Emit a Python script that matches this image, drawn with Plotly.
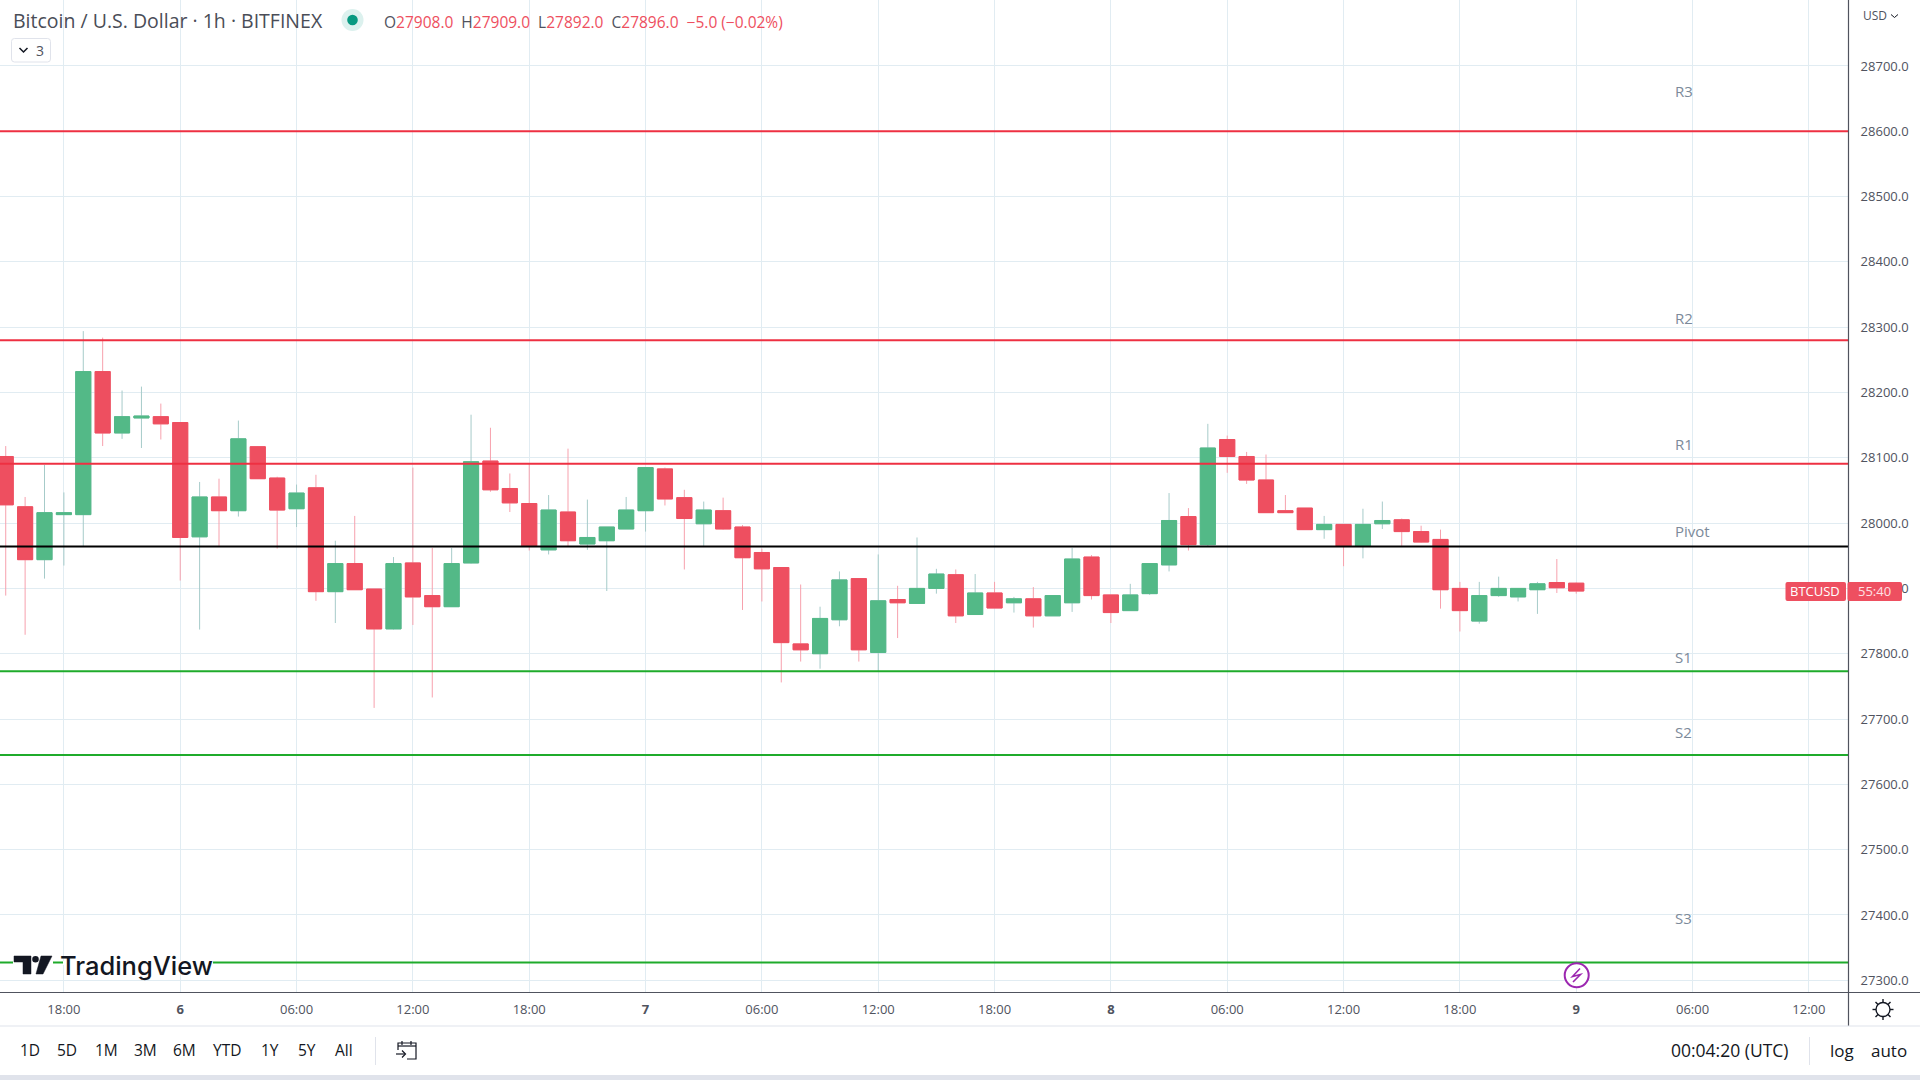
import pandas as pd
import plotly.graph_objects as go

# hourly candles, first one is 15:00 on the 5th
opens = [28102, 28025, 27944, 28013, 28013, 28232, 28138, 28161, 28163, 28154, 27979, 28040, 28019, 28117, 28069, 28022,
         28054, 27895, 27938, 27899, 27838, 27939, 27889, 27872, 27939, 28095, 28053, 28030, 27959, 28017, 27968, 27973,
         27991, 28019, 28083, 28039, 27999, 28019, 27994, 27955, 27932, 27815, 27800, 27852, 27915, 27802, 27883, 27877,
         27900, 27921, 27860, 27893, 27878, 27884, 27858, 27878, 27948, 27890, 27866, 27892, 27936, 28010, 27967, 28128,
         28102, 28066, 28019, 28023, 27990, 27998, 27965, 27999, 28005, 27987, 27975, 27900, 27850, 27889, 27887, 27898,
         27909, 27908]
highs = [28118, 28040, 28089, 28047, 28294, 28284, 28203, 28209, 28183, 28154, 28063, 28068, 28157, 28118, 28071, 28059,
         28074, 27973, 28011, 27899, 27948, 28085, 27962, 27962, 28166, 28146, 28076, 28092, 28043, 28114, 28036, 27994,
         28040, 28085, 28085, 28051, 28033, 28039, 27997, 27961, 27932, 27906, 27872, 27926, 27915, 27952, 27904, 27978,
         27930, 27929, 27922, 27910, 27887, 27902, 27889, 27962, 27951, 27890, 27907, 27938, 28046, 28023, 28152, 28134,
         28109, 28105, 28043, 28023, 28011, 27998, 28022, 28033, 28007, 27996, 27990, 27910, 27910, 27918, 27900, 27910,
         27945, 27909]
lows = [27889, 27829, 27915, 27935, 27964, 28118, 28129, 28115, 28128, 27912, 27837, 27964, 28010, 28068, 27961, 27994,
        27881, 27847, 27898, 27717, 27837, 27844, 27733, 27872, 27938, 28048, 28017, 27958, 27952, 27964, 27959, 27896,
        27991, 27987, 28027, 27929, 27965, 27990, 27867, 27880, 27756, 27788, 27777, 27842, 27788, 27773, 27824, 27877,
        27892, 27847, 27860, 27870, 27863, 27840, 27858, 27864, 27883, 27847, 27866, 27890, 27926, 27958, 27965, 28077,
        28060, 28016, 28016, 27990, 27976, 27934, 27946, 27991, 27965, 27970, 27869, 27834, 27846, 27887, 27880, 27861,
        27893, 27892]
closes = [28028, 27944, 28016, 28016, 28232, 28138, 28163, 28164, 28152, 27978, 28040, 28019, 28129, 28068, 28020, 28046,
          27895, 27938, 27898, 27838, 27938, 27887, 27872, 27938, 28094, 28051, 28031, 27965, 28020, 27973, 27978, 27994,
          28020, 28085, 28037, 28007, 28020, 27991, 27947, 27930, 27817, 27806, 27854, 27913, 27806, 27881, 27878, 27900,
          27922, 27858, 27893, 27870, 27884, 27858, 27889, 27945, 27889, 27863, 27890, 27938, 28004, 27967, 28115, 28102,
          28066, 28016, 28016, 27990, 27998, 27965, 27998, 28004, 27987, 27971, 27898, 27866, 27889, 27900, 27900, 27907,
          27901, 27896]
times = pd.date_range("2023-04-05 15:00", periods=len(opens), freq="h")

level_names = ["R3", "R2", "R1", "Pivot", "S1", "S2", "S3"]
level_values = [28600, 28280, 28091, 27964, 27773, 27645, 27327]
level_colors = ["#ee3042", "#ee3042", "#ee3042", "#000000", "#1fab2b", "#1fab2b", "#1fab2b"]
label_values = [28662, 28314, 28121, 27988, 27795, 27680, 27396]

price_ticks = [27300, 27400, 27500, 27600, 27700, 27800, 27900, 28000, 28100, 28200, 28300, 28400, 28500, 28600, 28700]
time_ticks = ["2023-04-05 18:00", "2023-04-06 00:00", "2023-04-06 06:00", "2023-04-06 12:00", "2023-04-06 18:00",
              "2023-04-07 00:00", "2023-04-07 06:00", "2023-04-07 12:00", "2023-04-07 18:00", "2023-04-08 00:00",
              "2023-04-08 06:00", "2023-04-08 12:00", "2023-04-08 18:00", "2023-04-09 00:00", "2023-04-09 06:00",
              "2023-04-09 12:00"]
time_labels = ["18:00", "<b>6</b>", "06:00", "12:00", "18:00", "<b>7</b>", "06:00", "12:00", "18:00", "<b>8</b>",
               "06:00", "12:00", "18:00", "<b>9</b>", "06:00", "12:00"]

range_buttons = ["1D", "5D", "1M", "3M", "6M", "YTD", "1Y", "5Y", "All"]
range_button_x = [30, 67, 106, 145, 184, 227, 270, 307, 344]

UP = "#53b987"
DOWN = "#ee4f60"
TEXT = "#50535e"
FONT = "Open Sans"

# plot area in page pixels
PLOT_W = 1848
PLOT_H = 992


def px(x):
    return x / PLOT_W


def py(y):
    return (PLOT_H - y) / PLOT_H


def path(points, closed=False):
    s = "M" + " L".join(f"{px(x):.5f},{py(y):.5f}" for x, y in points)
    return s + (" Z" if closed else "")


def round_rect(x0, y0, x1, y1, r):
    return (f"M{px(x0 + r):.5f},{py(y0):.5f} L{px(x1 - r):.5f},{py(y0):.5f} Q{px(x1):.5f},{py(y0):.5f} {px(x1):.5f},{py(y0 + r):.5f} "
            f"L{px(x1):.5f},{py(y1 - r):.5f} Q{px(x1):.5f},{py(y1):.5f} {px(x1 - r):.5f},{py(y1):.5f} "
            f"L{px(x0 + r):.5f},{py(y1):.5f} Q{px(x0):.5f},{py(y1):.5f} {px(x0):.5f},{py(y1 - r):.5f} "
            f"L{px(x0):.5f},{py(y0 + r):.5f} Q{px(x0):.5f},{py(y0):.5f} {px(x0 + r):.5f},{py(y0):.5f} Z")


def line_shape(points, color, width=1, closed=False, fill=None):
    return dict(type="path", xref="paper", yref="paper", path=path(points, closed),
                line=dict(color=color, width=width), fillcolor=fill, layer="above")


def rect_shape(x0, y0, x1, y1, fill):
    return dict(type="rect", xref="paper", yref="paper", x0=px(x0), x1=px(x1), y0=py(y0), y1=py(y1),
                line=dict(width=0), fillcolor=fill, layer="above")


def circle_shape(cx, cy, r, fill, color=None, width=0):
    return dict(type="circle", xref="paper", yref="paper", x0=px(cx - r), x1=px(cx + r), y0=py(cy - r), y1=py(cy + r),
                line=dict(color=color, width=width), fillcolor=fill, layer="above")


def label(x, y, text, size=15, color=TEXT, anchor="center", font=FONT, weight=None):
    return dict(xref="paper", yref="paper", x=px(x), y=py(y), text=text, showarrow=False, xanchor=anchor,
                yanchor="middle", borderpad=0, font=dict(family=font, size=size, color=color, weight=weight))


fig = go.Figure()

# light wicks underneath, solid bodies on top
fig.add_trace(go.Candlestick(
    x=times, open=opens, high=highs, low=lows, close=closes,
    increasing=dict(line=dict(color="#a6cbc9", width=1), fillcolor=UP),
    decreasing=dict(line=dict(color="#f7a1ad", width=1), fillcolor=DOWN),
))
fig.add_trace(go.Candlestick(
    x=times, open=opens, close=closes,
    high=[max(o, c) for o, c in zip(opens, closes)],
    low=[min(o, c) for o, c in zip(opens, closes)],
    increasing=dict(line=dict(color=UP, width=1), fillcolor=UP),
    decreasing=dict(line=dict(color=DOWN, width=1), fillcolor=DOWN),
))

shapes = []
for value, color in zip(level_values, level_colors):
    shapes.append(dict(type="line", xref="paper", yref="y", x0=0, x1=1, y0=value, y1=value,
                       line=dict(color=color, width=2), layer="above"))

# frame and bottom bar
shapes += [
    line_shape([(0, 992.5), (1920, 992.5)], "#50535e", 1.2),
    line_shape([(1848.5, 0), (1848.5, 1026)], "#50535e", 1.2),
    line_shape([(0, 1026), (1920, 1026)], "#e0e3eb", 1.2),
    rect_shape(0, 1075, 1920, 1080, "#e0e3eb"),
    line_shape([(375.5, 1037), (375.5, 1065)], "#e0e3eb", 1),
    line_shape([(1809.5, 1037), (1809.5, 1065)], "#e0e3eb", 1),
]

# logo, the S3 line breaks around it
shapes += [
    rect_shape(13, 961, 53, 965, "white"),
    rect_shape(63, 961, 213, 965, "white"),
    line_shape([(14, 956), (31, 956), (31, 974), (23, 974), (23, 962), (14, 962)], "#131722", 0.5, True, "#131722"),
    circle_shape(35.5, 959.3, 3.3, "#131722"),
    line_shape([(41, 956), (52, 956), (43, 974), (36, 974)], "#131722", 0.5, True, "#131722"),
]

# live dot and the collapse button
shapes += [
    circle_shape(352.5, 20, 11, "#dcf1ee"),
    circle_shape(352.5, 20, 5.3, "#089981"),
    dict(type="path", xref="paper", yref="paper", path=round_rect(11.5, 38.5, 50.5, 62, 3),
         line=dict(color="#e0e3eb", width=1), layer="above"),
    line_shape([(19.5, 48), (23.5, 52), (27.5, 48)], "#131722", 1.5),
]

# price tag
shapes += [
    dict(type="path", xref="paper", yref="paper", path=round_rect(1785.5, 582, 1846, 601, 2),
         line=dict(width=0), fillcolor="#ee4f60", layer="above"),
    dict(type="path", xref="paper", yref="paper", path=round_rect(1847.5, 582, 1902, 601, 2),
         line=dict(width=0), fillcolor="#ee4f60", layer="above"),
]

# lightning marker
shapes += [
    circle_shape(1576.7, 975.3, 12, "white", "#9c27b0", 2),
    line_shape([(1580, 968.5), (1572.5, 976.5), (1580.5, 974.5), (1573, 982)], "#9c27b0", 1.6),
]

# settings icon
shapes.append(circle_shape(1883, 1009.5, 7, "white", "#131722", 1.4))
for a, b in [((1883, 999), (1883, 1002.5)), ((1883, 1016.5), (1883, 1020)), ((1872.5, 1009.5), (1876, 1009.5)),
             ((1890, 1009.5), (1893.5, 1009.5)), ((1875.5, 1002), (1878, 1004.5)), ((1888, 1014.5), (1890.5, 1017)),
             ((1875.5, 1017), (1878, 1014.5)), ((1888, 1004.5), (1890.5, 1002))]:
    shapes.append(line_shape([a, b], "#131722", 1.4))

# calendar icon
shapes += [
    line_shape([(398, 1050), (398, 1043), (416, 1043), (416, 1059), (407, 1059)], "#131722", 1.2),
    line_shape([(398, 1046), (416, 1046)], "#131722", 1.2),
    line_shape([(402, 1041), (402, 1045)], "#131722", 1.2),
    line_shape([(411, 1041), (411, 1045)], "#131722", 1.2),
    line_shape([(396, 1054), (405, 1054)], "#131722", 1.2),
    line_shape([(402, 1050.5), (405.5, 1054), (402, 1057.5)], "#131722", 1.2),
    line_shape([(1891, 14.5), (1894.5, 17.5), (1898, 14.5)], "#131722", 1),
]

annotations = []
for name, value in zip(level_names, label_values):
    annotations.append(dict(xref="paper", yref="y", x=px(1673), y=value, text=name, showarrow=False,
                            xanchor="left", yanchor="middle",
                            font=dict(family=FONT, size=15, color="#7c8a9a")))

red = DOWN
gap = " &nbsp;"
header = (f"O<span style='color:{red}'>27908.0</span>{gap}H<span style='color:{red}'>27909.0</span>{gap}"
          f"L<span style='color:{red}'>27892.0</span>{gap}C<span style='color:{red}'>27896.0</span>{gap}"
          f"<span style='color:{red}'>−5.0 (−0.02%)</span>")
annotations += [
    label(11.5, 21, "Bitcoin / U.S. Dollar · 1h · BITFINEX", 19.5, "#4a4d57", "left"),
    label(383, 22, header, 15.5, TEXT, "left"),
    label(40, 50, "3", 14, TEXT),
    label(1862, 15, "USD", 12, TEXT, "left"),
    label(1815, 591.5, "BTCUSD", 13, "white"),
    label(1875, 591.5, "55:40", 13, "#ffe0e4"),
    label(136.5, 965, "TradingView", 25.5, "#131722", font="Inter", weight=500),
    label(1730, 1050, "00:04:20 (UTC)", 17.5, "#131722"),
    label(1842, 1050, "log", 17, "#131722"),
    label(1889, 1050, "auto", 17, "#131722"),
]
for name, x in zip(range_buttons, range_button_x):
    annotations.append(label(x, 1050, name, 15.5, "#131722"))

fig.update_layout(
    width=1920,
    height=1080,
    margin=dict(l=0, r=72, t=0, b=88),
    paper_bgcolor="white",
    plot_bgcolor="white",
    showlegend=False,
    boxmode="overlay",
    boxgap=0.22,
    boxgroupgap=0,
    shapes=shapes,
    annotations=annotations,
    font=dict(family=FONT, color=TEXT),
)
fig.update_xaxes(
    type="date",
    range=["2023-04-05 14:42:18", "2023-04-09 14:01:00"],
    rangeslider=dict(visible=False),
    tickmode="array",
    tickvals=time_ticks,
    ticktext=time_labels,
    tickfont=dict(family=FONT, size=13, color=TEXT),
    ticks="outside",
    ticklen=5,
    tickcolor="rgba(0,0,0,0)",
    showgrid=True,
    gridcolor="#e1ecf2",
    gridwidth=1,
    zeroline=False,
)
fig.update_yaxes(
    side="right",
    range=[27282, 28801],
    tickmode="array",
    tickvals=price_ticks,
    ticktext=[f"{p:.1f}" for p in price_ticks],
    tickfont=dict(family=FONT, size=13, color=TEXT),
    ticks="outside",
    ticklen=9,
    tickcolor="rgba(0,0,0,0)",
    showgrid=True,
    gridcolor="#e1ecf2",
    gridwidth=1,
    zeroline=False,
)

# page margin off so the pixels line up with the 1920x1080 window
fig.write_html("out.html", config={"displayModeBar": False}, post_script="document.body.style.margin='0';")
